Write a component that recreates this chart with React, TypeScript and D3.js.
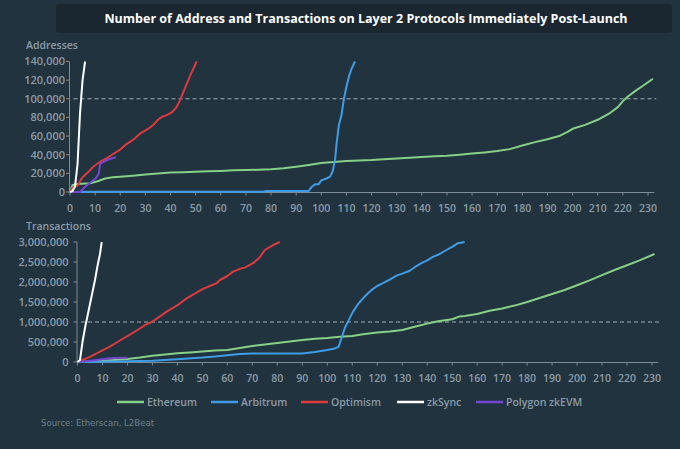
import React from "react";
import * as d3 from "d3";

type Pt = [number, number];

const seriesNames = ["Ethereum", "Arbitrum", "Optimism", "zkSync", "Polygon zkEVM"];
const seriesColors = ["#86d185", "#3f9ce8", "#dd3a3d", "#ffffff", "#7646d2"];

const xTicks = d3.range(0, 231, 10);
const addrTicks = [0, 20000, 40000, 60000, 80000, 100000, 120000, 140000];
const txTicks = [0, 500000, 1000000, 1500000, 2000000, 2500000, 3000000];

// Addresses (day, cumulative addresses)
const ethAddr: Pt[] = [[0,0],[1,7500],[3,8500],[8,9300],[11,11500],[14,14500],[17,15800],[20,16400],[25,17500],[30,18800],[35,19800],[40,20800],[45,21300],[50,21800],[55,22200],[60,22600],[65,23200],[70,23500],[75,23800],[80,24300],[85,25500],[90,27200],[95,29000],[100,31000],[105,32300],[110,33300],[115,33800],[120,34300],[125,35200],[130,36000],[135,36800],[140,37500],[145,38300],[150,39000],[155,40000],[160,41200],[165,42500],[170,44000],[175,46000],[180,49800],[185,53500],[190,56500],[195,60400],[198,64500],[200,67800],[205,72000],[210,77500],[215,85000],[218,91000],[220,97500],[222,102500],[225,108500],[228,114000],[232,121500]];
const arbAddr: Pt[] = [[0,0],[10,200],[20,300],[40,300],[60,300],[77,300],[78,1200],[95,1200],[96,5000],[97.5,8200],[99,8400],[100,12500],[102,14500],[103.5,16500],[104.5,22000],[105.5,35000],[106,50000],[107,72000],[108,82000],[109,100000],[110,113000],[111,124000],[112,132000],[113.4,140000]];
const opAddr: Pt[] = [[0,0],[1,4500],[3,6800],[4.5,14000],[6,18500],[7.5,22000],[9,26500],[10.5,29500],[12,32500],[14.5,36000],[17,40500],[20,45500],[22,50500],[24,54000],[26,58000],[28,63000],[30,66000],[32,69500],[33.5,73000],[35,77500],[36.5,80500],[38.5,82500],[40.5,85500],[42,89500],[43,94000],[44,100000],[46,113000],[48,126000],[50.4,140000]];
const zkAddr: Pt[] = [[0,0],[1,1000],[2,6000],[3,30000],[4,85000],[5,120000],[6,140000]];
const polyAddr: Pt[] = [[0,0],[4,0],[5,3000],[7,8000],[9,12000],[10.5,15500],[11.5,20000],[12,30500],[14.5,34000],[16.5,36000],[18.3,37200]];

// Transactions (day, cumulative transactions)
const ethTx: Pt[] = [[0,0],[5,10000],[10,30000],[15,50000],[20,75000],[25,110000],[30,155000],[35,190000],[40,220000],[45,240000],[50,265000],[55,285000],[60,300000],[65,350000],[70,400000],[75,440000],[80,475000],[85,515000],[90,550000],[95,580000],[100,600000],[105,630000],[110,650000],[115,700000],[120,740000],[125,765000],[130,800000],[135,880000],[140,960000],[145,1025000],[150,1070000],[153,1140000],[155,1150000],[160,1200000],[165,1280000],[170,1340000],[175,1410000],[180,1500000],[185,1600000],[190,1700000],[195,1800000],[200,1920000],[205,2040000],[210,2170000],[215,2300000],[220,2420000],[225,2540000],[231,2700000]];
const arbTx: Pt[] = [[0,0],[10,5000],[20,20000],[30,30000],[40,70000],[50,110000],[55,140000],[60,170000],[65,200000],[70,210000],[80,210000],[90,210000],[95,250000],[100,300000],[103,340000],[104.5,380000],[106,650000],[107,850000],[108.3,1010000],[110.3,1260000],[112,1420000],[114.3,1590000],[116,1700000],[118.3,1830000],[120,1900000],[122.3,1970000],[125,2060000],[127.7,2160000],[130,2210000],[133,2280000],[135,2370000],[137.7,2470000],[140,2540000],[142.3,2630000],[145,2700000],[147.7,2800000],[150,2880000],[152.3,2970000],[155,3000000]];
const opTx: Pt[] = [[0,0],[5,130000],[9,258000],[13,383000],[16,500000],[20.3,657000],[24,800000],[27,920000],[29.7,1000000],[33,1140000],[35.7,1260000],[40,1420000],[43.7,1590000],[47,1710000],[50,1820000],[53,1900000],[55.7,1970000],[57,2050000],[60,2150000],[62.3,2260000],[65,2330000],[67,2360000],[70.3,2470000],[73,2620000],[75,2800000],[78.3,2920000],[81,3000000]];
const zkTx: Pt[] = [[0,0],[1,50000],[2,500000],[3,850000],[4,1150000],[5,1450000],[6,1750000],[7,2050000],[8,2400000],[9,2700000],[9.7,3000000]];
const polyTx: Pt[] = [[0,0],[3,20000],[6,40000],[9,60000],[12,90000],[15,100000],[20,105000]];

const addrSeries = [ethAddr, arbAddr, opAddr, polyAddr, zkAddr];
const txSeries = [ethTx, arbTx, opTx, polyTx, zkTx];
const drawColorIdx = [0, 1, 2, 4, 3];

const BG = "#20333f";
const TICK = "#8d9ba6";
const AXIS = "#7d8c96";
const FONT = "'Open Sans', 'Noto Sans', sans-serif";
const fmt = d3.format(",");

function Panel(props: {
  label: string; data: Pt[][]; yTicks: number[]; yMax: number; ref100: number;
  x0: number; x230: number; yBottom: number; yTop: number; labelY: number; labelGap: number;
}) {
  const { label, data, yTicks, yMax, ref100, x0, x230, yBottom, yTop, labelY, labelGap } = props;
  const x = d3.scaleLinear().domain([0, 230]).range([x0, x230]);
  const y = d3.scaleLinear().domain([0, yMax]).range([yBottom, yTop]);
  const line = d3.line<Pt>().x((d) => x(d[0])).y((d) => y(d[1]));
  const axisX = x0 - 0.5;
  const xEnd = x(232.5);
  return (
    <g>
      <text x={26} y={labelY} fill={TICK} fontSize={10.5} fontWeight={600} fontFamily={FONT}>{label}</text>
      <line x1={axisX} x2={axisX} y1={y(yMax)} y2={y(0)} stroke={AXIS} strokeWidth={1} />
      {yTicks.map((t) => (
        <g key={t}>
          <line x1={axisX - 3.5} x2={axisX} y1={y(t)} y2={y(t)} stroke={AXIS} strokeWidth={1} />
          <text x={axisX - labelGap} y={y(t)} dy="0.35em" textAnchor="end" fill={TICK} fontSize={11} fontWeight={600} fontFamily={FONT}>{fmt(t)}</text>
        </g>
      ))}
      <line x1={axisX} x2={xEnd} y1={y(0) + 0.5} y2={y(0) + 0.5} stroke={AXIS} strokeWidth={1} />
      {xTicks.map((t) => (
        <g key={t}>
          <line x1={x(t)} x2={x(t)} y1={y(0)} y2={y(0) + 3.5} stroke={AXIS} strokeWidth={1} />
          <text x={x(t)} y={y(0) + 16} dy="0.35em" textAnchor="middle" fill={TICK} fontSize={10.5} fontWeight={600} fontFamily={FONT}>{t}</text>
        </g>
      ))}
      <line x1={axisX + 4} x2={xEnd + 2} y1={y(ref100)} y2={y(ref100)} stroke="#a3adb4" strokeWidth={1} strokeDasharray="4,3" />
      {data.map((s, i) => (
        <path key={i} d={line(s) || ""} fill="none" stroke={seriesColors[drawColorIdx[i]]} strokeWidth={2} strokeLinejoin="round" />
      ))}
    </g>
  );
}

const legendX = [117, 211, 301, 397, 476];

export default function App() {
  return (
    <svg width={680} height={449} style={{ position: "absolute", left: 0, top: 0, display: "block" }}>
      <rect x={0} y={0} width={680} height={449} fill={BG} />
      <rect x={56} y={4} width={616} height={29} rx={3} fill="#1a2630" />
      <text x={366} y={19} dy="0.35em" textAnchor="middle" fill="#ffffff" fontSize={12.5} fontWeight={700} fontFamily={FONT}>
        Number of Address and Transactions on Layer 2 Protocols Immediately Post-Launch
      </text>
      <Panel label="Addresses" data={addrSeries} yTicks={addrTicks} yMax={140000} ref100={100000}
        x0={70} x230={648} yBottom={192} yTop={61.5} labelY={49} labelGap={4.5} />
      <Panel label="Transactions" data={txSeries} yTicks={txTicks} yMax={3000000} ref100={1000000}
        x0={77.5} x230={652} yBottom={362} yTop={242} labelY={230} labelGap={8.5} />
      {seriesNames.map((n, i) => (
        <g key={n}>
          <line x1={legendX[i]} x2={legendX[i] + 27} y1={402} y2={402} stroke={seriesColors[i]} strokeWidth={2.5} />
          <text x={legendX[i] + 30} y={402} dy="0.35em" fill={TICK} fontSize={10.5} fontWeight={600} fontFamily={FONT}>{n}</text>
        </g>
      ))}
      <text x={41} y={423} dy="0.35em" fill="#6f808b" fontSize={9.5} fontFamily="'Liberation Sans Narrow', 'DejaVu Sans Condensed', sans-serif">
        Source: Etherscan, L2Beat
      </text>
    </svg>
  );
}
